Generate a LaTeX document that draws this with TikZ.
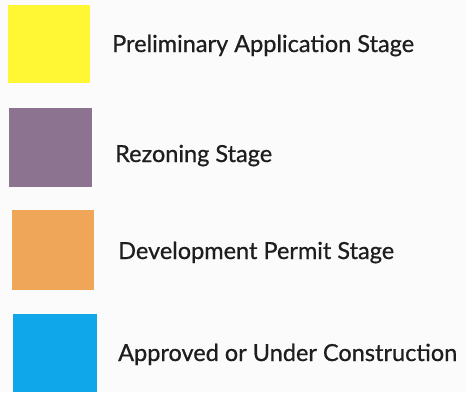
\documentclass[tikz,border=0pt]{standalone}
\usepackage{fontspec}
\setmainfont{Lato}
\newfontfamily\lblfont{Lato}[FakeBold=0.7]
\definecolor{cyel}{HTML}{FFF733}
\definecolor{cpur}{HTML}{8C7390}
\definecolor{cora}{HTML}{EFA658}
\definecolor{cblu}{HTML}{10A7EA}
\definecolor{bgc}{HTML}{FBFBFB}
\definecolor{txc}{HTML}{1E1E1E}
\tikzset{
  swatch/.style={draw=none, anchor=north west, inner sep=0pt},
  lbl/.style={anchor=base west, inner sep=0pt, text=txc, font=\lblfont\fontsize{23.5}{26}\selectfont}
}
\begin{document}
\begin{tikzpicture}[x=1pt,y=-1pt]
\fill[bgc] (0,0) rectangle (466,392);
\useasboundingbox (0,0) rectangle (466,392);
\node[swatch, fill=cyel, minimum width=82pt, minimum height=78pt] (s1) at (8,5) {};
\node[swatch, fill=cpur, minimum width=83pt, minimum height=79pt] (s2) at (9,108) {};
\node[swatch, fill=cora, minimum width=82pt, minimum height=80pt] (s3) at (12,210) {};
\node[swatch, fill=cblu, minimum width=84pt, minimum height=78pt] (s4) at (13,314) {};
\node[lbl] (t1) at (112,52) {Preliminary Application Stage};
\node[lbl] (t2) at (115,162) {Rezoning Stage};
\node[lbl] (t3) at (118,259) {Development Permit Stage};
\node[lbl] (t4) at (118,361) {Approved or Under Construction};
\end{tikzpicture}
\end{document}
